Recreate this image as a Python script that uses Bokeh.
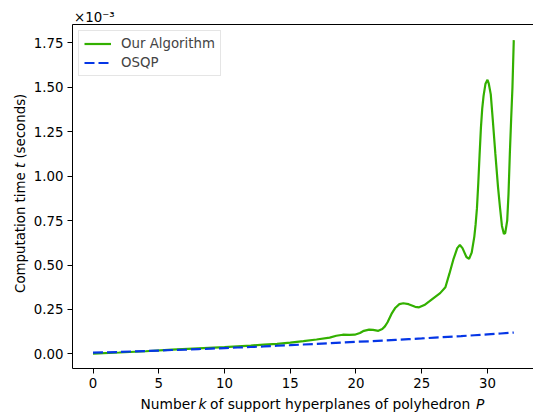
from math import pi
from bokeh.plotting import figure
from bokeh.layouts import row, column
from bokeh.models import Range1d, FixedTicker, LinearAxis, Legend, LegendItem
from bokeh.core.properties import value
from bokeh.embed import file_html
from bokeh.resources import INLINE

# ---- data (computation time, in units of 1e-3 s) ----
k_ours = [0, 2, 4, 6, 8, 10, 12, 13, 14, 15, 16, 17, 18, 18.5, 19, 19.5, 19.9,
          20.3, 20.6, 21.0, 21.3, 21.7, 22.0, 22.2, 22.4, 22.7, 23.0, 23.3, 23.6,
          24.0, 24.5, 24.8, 25.2, 25.6, 26.0, 26.4, 26.8, 27.1, 27.4, 27.7, 27.9,
          28.1, 28.4, 28.6, 28.8, 29.0, 29.1, 29.2, 29.3, 29.4, 29.5, 29.6, 29.7,
          29.85, 30.0, 30.1, 30.25, 30.4, 30.6, 30.8, 30.95, 31.1, 31.25, 31.35,
          31.5, 31.6, 31.7, 31.8, 31.9, 32.0]
t_ours = [0.002, 0.008, 0.015, 0.024, 0.031, 0.038, 0.047, 0.052, 0.057, 0.064,
          0.072, 0.081, 0.092, 0.102, 0.108, 0.107, 0.108, 0.118, 0.130, 0.137,
          0.135, 0.130, 0.140, 0.155, 0.178, 0.225, 0.260, 0.280, 0.285, 0.280,
          0.265, 0.262, 0.275, 0.297, 0.320, 0.342, 0.375, 0.450, 0.530, 0.595,
          0.613, 0.595, 0.545, 0.535, 0.570, 0.660, 0.730, 0.820, 0.960, 1.120,
          1.270, 1.380, 1.450, 1.520, 1.542, 1.520, 1.460, 1.320, 1.125, 0.940,
          0.825, 0.720, 0.675, 0.680, 0.750, 0.900, 1.125, 1.320, 1.500, 1.765]

k_osqp = list(range(0, 33))
t_osqp = [0.007, 0.009, 0.011, 0.014, 0.016, 0.019, 0.022, 0.024, 0.027, 0.030,
          0.033, 0.036, 0.039, 0.042, 0.046, 0.049, 0.053, 0.056, 0.060, 0.064,
          0.068, 0.071, 0.075, 0.079, 0.083, 0.087, 0.092, 0.096, 0.100, 0.105,
          0.110, 0.115, 0.120]

x_ticks = [0, 5, 10, 15, 20, 25, 30]
y_ticks = [0.0, 0.25, 0.5, 0.75, 1.0, 1.25, 1.5, 1.75]
y_tick_labels = ["0.00", "0.25", "0.50", "0.75", "1.00", "1.25", "1.50", "1.75"]
legend_labels = ["Our Algorithm", "OSQP"]
x_label_parts = ["Number", "k", "of support hyperplanes of polyhedron", "P"]
y_label_parts = ["Computation time", "t", "(seconds)"]
offset_text = "\u00d710\u207b\u00b3"

GREEN = "#33b000"
BLUE = "#0536e6"
FONT = "DejaVu Sans"
FS = "13.33px"
FS_X = "13.8px"

W, H = 533, 412
LEFT_W = 30      # strip holding the y label
BOT_H = 18       # strip holding the x label
MAIN_W = W - LEFT_W
MAIN_H = H - BOT_H
FRAME_L = LEFT_W + 42   # page x of the plot frame's left edge
FRAME_R = W
FRAME_T = 24


def strip(w, h, xr, yr):
    f = figure(width=w, height=h, output_backend="svg", toolbar_location=None,
               x_range=Range1d(*xr), y_range=Range1d(*yr),
               x_axis_type=None, y_axis_type=None,
               min_border=0, min_border_left=0, min_border_right=0,
               min_border_top=0, min_border_bottom=0)
    f.outline_line_color = None
    f.grid.visible = False
    f.background_fill_color = "white"
    f.border_fill_color = "white"
    return f


def put(f, x, y, text, italic=False, angle=0.0, size=FS):
    f.text(x=[x], y=[y], text=[text], text_font=value(FONT),
           text_font_size=value(size),
           text_font_style=value("italic" if italic else "normal"),
           text_align="left", text_baseline="alphabetic",
           text_color="black", angle=angle)


# ---- main plot ----
p = figure(width=MAIN_W, height=MAIN_H, output_backend="svg",
           toolbar_location=None,
           x_range=Range1d(-1.56, 33.5), y_range=Range1d(-0.082, 1.853),
           min_border_left=FRAME_L - LEFT_W, min_border_right=0,
           min_border_top=FRAME_T, min_border_bottom=26)
p.outline_line_color = None
p.xgrid.visible = False
p.ygrid.visible = False
p.background_fill_color = "white"
p.border_fill_color = "white"

# offset text (x10^-3) as the plot title, just above the frame's left corner
p.title.text = offset_text
p.title.align = "left"
p.title.vertical_align = "bottom"
p.title.offset = 1.5
p.title.standoff = 0
p.title.text_font = FONT
p.title.text_font_size = FS
p.title.text_font_style = "normal"
p.title.text_color = "black"

for ax in (p.xaxis[0], p.yaxis[0]):
    ax.axis_line_color = "black"
    ax.axis_line_width = 1
    ax.major_tick_line_color = "black"
    ax.major_tick_line_width = 1
    ax.major_tick_out = 5
    ax.major_tick_in = 0
    ax.minor_tick_out = 0
    ax.minor_tick_in = 0
    ax.major_label_standoff = 4
    ax.major_label_text_font = FONT
    ax.major_label_text_font_size = FS
    ax.major_label_text_color = "black"

p.xaxis.ticker = FixedTicker(ticks=x_ticks)
p.yaxis.ticker = FixedTicker(ticks=y_ticks)
p.yaxis.major_label_overrides = {v: s for v, s in zip(y_ticks, y_tick_labels)}

top = LinearAxis(ticker=FixedTicker(ticks=[]), axis_line_color="black",
                 axis_line_width=1, major_tick_out=0, major_tick_in=0,
                 minor_tick_out=0, minor_tick_in=0, major_label_standoff=0)
p.add_layout(top, "above")

r1 = p.line(k_ours, t_ours, line_color=GREEN, line_width=2.2)
r2 = p.line(k_osqp, t_osqp, line_color=BLUE, line_width=2.2, line_dash="10 4")

legend = Legend(items=[LegendItem(label=legend_labels[0], renderers=[r1]),
                       LegendItem(label=legend_labels[1], renderers=[r2])],
                location="top_left", margin=6, padding=5, spacing=4,
                glyph_width=27, glyph_height=13, label_height=13,
                label_standoff=10, label_text_font=FONT, label_text_font_size=FS,
                border_line_color="#cccccc", border_line_width=1,
                background_fill_alpha=0.8)
p.add_layout(legend)

# ---- text strips (ranges expressed in page pixels) ----
# left strip: x = page x, y = 412 - page y
ylab = strip(LEFT_W, H, (0, LEFT_W), (0, H))
YB = 20.0   # baseline column of the rotated y label
put(ylab, YB, H - 292.4, y_label_parts[0], angle=pi / 2)
put(ylab, YB, H - 167.5, y_label_parts[1], italic=True, angle=pi / 2)
put(ylab, YB, H - 158.1, y_label_parts[2], angle=pi / 2)

# bottom strip gets its frame aligned with the main frame: x = page x
xlab = strip(MAIN_W, BOT_H, (FRAME_L, FRAME_R), (0, BOT_H))
XB = H - 403.0
put(xlab, 140.0, XB, x_label_parts[0], size=FS_X)
put(xlab, 198.0, XB, x_label_parts[1], italic=True, size=FS_X)
put(xlab, 209.5, XB, x_label_parts[2], size=FS_X)
put(xlab, 475.5, XB, x_label_parts[3], italic=True, size=FS_X)

layout = row(ylab, column(p, xlab, spacing=0), spacing=0)

open("out.html", "w").write(file_html(layout, INLINE))
